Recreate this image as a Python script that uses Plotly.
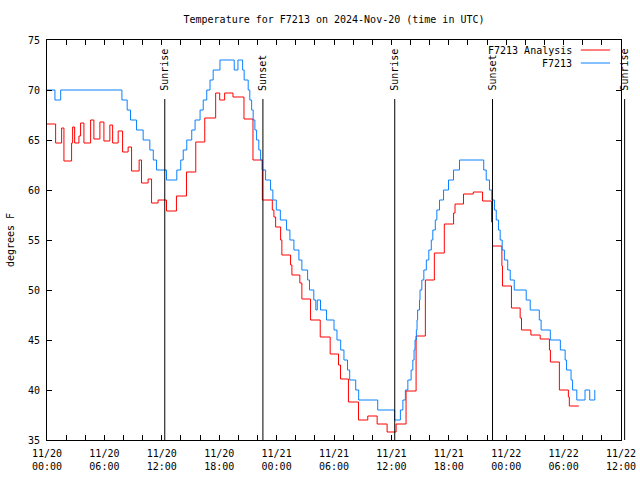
import pandas as pd
import plotly.graph_objects as go

# ---- data (hours after 2024-11-20 00:00 UTC, degrees F) ----
start = pd.Timestamp("2024-11-20 00:00")

analysis_hours = [0, 0.90, 1.53, 1.77, 2.57, 2.68, 2.89, 3.34, 3.51, 3.86, 4.56, 4.90, 5.53, 5.95,
                  6.57, 6.86, 7.44, 7.90, 8.48, 8.84, 9.63, 9.88, 10.57, 10.93, 11.61, 12.49, 13.53,
                  14.58, 15.55, 16.49, 17.63, 18.05, 18.57, 19.44, 20.59, 21.53, 22.51, 23.55, 23.72,
                  23.90, 24.42, 24.55, 25.46, 25.60, 26.43, 26.64, 27.55, 28.56, 29.60, 30.47, 30.68,
                  31.51, 32.56, 33.53, 34.51, 35.55, 36.49, 37.53, 38.58, 39.55, 40.49, 41.53, 42.50,
                  42.65, 43.54, 44.56, 45.53, 46.47, 46.57, 47.55, 47.61, 48.55, 49.46, 49.60, 50.58,
                  51.55, 52.52, 52.62, 53.56, 54.50, 54.60, 55.59]
analysis_temp = [66.6, 64.7, 66.2, 62.9, 64.7, 66.3, 64.7, 65.4, 66.7, 64.7, 67.0, 65.1, 66.8, 64.9,
                 66.5, 64.7, 65.9, 63.8, 64.3, 61.9, 63.0, 60.7, 61.1, 58.7, 59.0, 57.9, 59.4,
                 61.8, 64.8, 67.2, 69.7, 69.0, 69.7, 69.3, 67.1, 63.0, 59.0, 58.0, 57.3,
                 56.3, 55.0, 53.5, 52.5, 51.5, 50.7, 49.1, 47.0, 45.3, 43.6, 42.5, 41.1,
                 38.8, 37.0, 37.4, 36.6, 35.8, 36.6, 39.9, 45.4, 51.0, 53.7, 56.6, 57.7,
                 58.6, 59.6, 59.8, 58.9, 56.8, 54.4, 52.4, 50.4, 48.2, 47.2, 46.0, 45.5,
                 45.1, 44.0, 42.8, 40.0, 39.3, 38.4, 38.4]

obs_hours = [0, 0.83, 1.43, 7.83, 8.38, 8.73, 9.36, 10.05, 10.75, 11.11, 11.45, 12.49, 13.57, 13.98,
             14.24, 14.61, 15.13, 15.48, 16.00, 16.33, 16.70, 17.04, 17.37, 18.08, 19.57, 19.96,
             20.45, 20.61, 21.03, 21.20, 21.39, 21.55, 21.73, 21.91, 22.14, 22.33, 22.49, 22.85,
             23.37, 23.61, 23.97, 24.39, 25.04, 25.39, 25.81, 26.33, 26.64, 27.24, 27.44, 27.89,
             28.10, 28.25, 28.59, 29.22, 30.00, 30.31, 30.70, 31.04, 31.41, 31.64, 32.27, 32.58,
             34.57, 36.34, 36.94, 37.20, 37.46, 37.72, 38.06, 38.24, 38.37, 38.47, 38.61, 38.68,
             38.74, 38.94, 38.99, 39.18, 39.39, 39.65, 39.91, 40.17, 40.33, 40.59, 40.75, 41.03,
             41.45, 41.97, 42.49, 43.12, 45.65, 45.91, 46.25, 46.49, 46.77, 46.96, 47.19, 47.37,
             47.58, 47.81, 48.16, 48.42, 48.84, 50.09, 50.51, 51.46, 51.65, 52.61, 53.66, 54.16,
             54.31, 54.78, 54.94, 55.38, 56.24, 56.73, 57.26]
obs_temp = [70, 69, 70, 69, 68, 67, 66, 65, 64, 63, 62, 61, 62, 63,
            64, 65, 66, 67, 68, 69, 70, 71, 72, 73, 72, 73,
            72, 71, 70, 69, 68, 67, 66, 65, 64, 63, 62, 61,
            60, 59, 58, 57, 56, 55, 54, 53, 52, 51, 50, 49,
            48, 49, 48, 47, 46, 45, 44, 43, 42, 41, 40, 39,
            38, 37, 38, 39, 40, 41, 42, 43, 44, 45, 46, 47,
            48, 49, 50, 51, 52, 53, 54, 55, 56, 57, 58, 59,
            60, 61, 62, 63, 62, 61, 60, 59, 58, 57, 56, 55,
            54, 53, 52, 51, 50, 49, 48, 47, 46, 45, 44, 43,
            42, 41, 40, 39, 40, 39, 40]

sun_hours = [12.31, 22.57, 36.35, 46.57, 60.38]
sun_labels = ["Sunrise", "Sunset", "Sunrise", "Sunset", "Sunrise"]

x_hours_range = [0, 60]
y_range = [35, 75]

FONT = "DejaVu Sans Mono"


def to_time(hours):
    return start + pd.to_timedelta(pd.Series(hours), unit="h")


fig = go.Figure()
fig.add_trace(go.Scatter(x=to_time(analysis_hours), y=analysis_temp, mode="lines",
                         line=dict(color="#ff0000", width=1, shape="hv"),
                         name="F7213 Analysis", showlegend=False))
fig.add_trace(go.Scatter(x=to_time(obs_hours), y=obs_temp, mode="lines",
                         line=dict(color="#0a80ff", width=1, shape="hv"),
                         name="F7213", showlegend=False))

span = x_hours_range[1] - x_hours_range[0]
line_top = 0.8525
for h, lab in zip(sun_hours, sun_labels):
    xp = (h - x_hours_range[0]) / span
    fig.add_shape(type="line", xref="paper", yref="paper", x0=xp, x1=xp, y0=0, y1=line_top,
                  line=dict(color="black", width=1), layer="above")
    fig.add_annotation(xref="paper", yref="paper", x=xp, y=0.8675, text=lab, textangle=-90,
                       showarrow=False, xanchor="center", yanchor="bottom",
                       font=dict(family=FONT, size=10, color="black"))

# legend (text right-aligned, sample line on the right, as in the original)
legend_items = [("F7213 Analysis", "#ff0000", 0.975), ("F7213", "#0a80ff", 0.9425)]
for txt, col, yp in legend_items:
    fig.add_annotation(xref="paper", yref="paper", x=0.918, y=yp, text=txt, showarrow=False,
                       xanchor="right", yanchor="middle", font=dict(family=FONT, size=10, color="black"))
    fig.add_shape(type="line", xref="paper", yref="paper", x0=0.930, x1=0.981, y0=yp, y1=yp,
                  line=dict(color=col, width=1))

fig.update_layout(
    width=640, height=480,
    margin=dict(l=47, r=19, t=40, b=40, autoexpand=False),
    paper_bgcolor="white", plot_bgcolor="white",
    title=dict(text="Temperature for F7213 on 2024-Nov-20 (time in UTC)",
               x=0.5, xref="paper", xanchor="center", y=1 - 19 / 480, yref="container",
               yanchor="middle", font=dict(family=FONT, size=10, color="black")),
    font=dict(family=FONT, size=10, color="black"),
    showlegend=False,
    hovermode=False,
)
fig.update_xaxes(
    type="date", automargin=False,
    range=[start, start + pd.Timedelta(hours=x_hours_range[1])],
    tick0=start, dtick=6 * 3600 * 1000, tickformat="%m/%d<br>%H:%M",
    ticks="inside", ticklen=5, tickcolor="black", tickwidth=1, ticklabelstandoff=4,
    minor=dict(dtick=2 * 3600 * 1000, ticks="inside", ticklen=5, tickcolor="black", tickwidth=1),
    showline=True, linecolor="black", linewidth=1, mirror="allticks",
    showgrid=False, zeroline=False,
    tickfont=dict(family=FONT, size=10, color="black"),
)
fig.update_yaxes(
    range=y_range, dtick=5, tick0=35, automargin=False,
    ticks="inside", ticklen=5, tickcolor="black", tickwidth=1, ticklabelstandoff=4,
    showline=True, linecolor="black", linewidth=1, mirror="allticks",
    showgrid=False, zeroline=False,
    tickfont=dict(family=FONT, size=10, color="black"),
    title=dict(text="degrees F", font=dict(family=FONT, size=10, color="black"), standoff=11),
)

fig.write_html("out.html", config={"displayModeBar": False},
               post_script="document.body.style.margin='0';")
